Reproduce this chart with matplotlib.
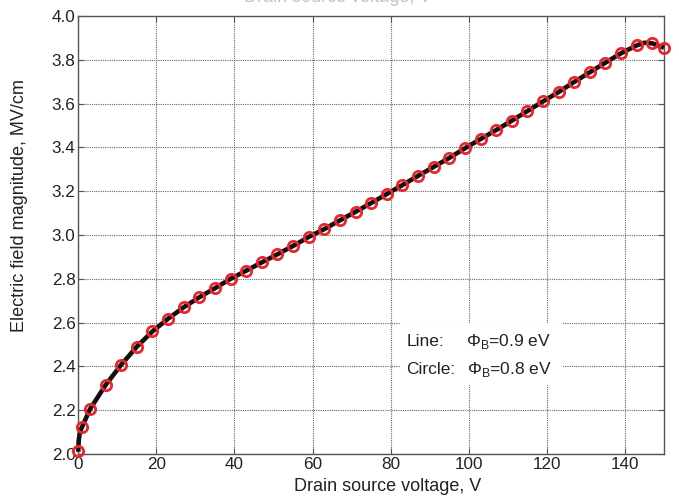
import numpy as np
import matplotlib
matplotlib.use('Agg')
import matplotlib.pyplot as plt
from matplotlib.patches import Rectangle

plt.rcParams['font.family'] = ['Liberation Sans', 'DejaVu Sans']
plt.rcParams['mathtext.fontset'] = 'custom'
plt.rcParams['mathtext.rm'] = 'Liberation Sans'

# Φ_B = 0.9 eV (solid line)
line_v = [0, 0.1, 0.4, 1, 3, 7, 11, 15, 19, 23, 27, 31, 35, 39, 43, 47, 51, 55, 59, 63, 67,
          71, 75, 79, 83, 87, 91, 95, 99, 103, 107, 111, 115, 119, 123, 127, 131, 135,
          139, 143, 145, 147, 150]
line_e = [2.01, 2.06, 2.10, 2.125, 2.205, 2.315, 2.408, 2.49, 2.56, 2.618, 2.67, 2.716,
          2.757, 2.80, 2.837, 2.875, 2.912, 2.950, 2.991, 3.027, 3.067, 3.106, 3.146,
          3.187, 3.228, 3.27, 3.311, 3.352, 3.396, 3.438, 3.479, 3.522, 3.566, 3.610,
          3.653, 3.699, 3.743, 3.787, 3.830, 3.866, 3.878, 3.875, 3.855]

# Φ_B = 0.8 eV (circles)
circle_v = [0, 1, 3, 7, 11, 15, 19, 23, 27, 31, 35, 39, 43, 47, 51, 55, 59, 63, 67, 71,
            75, 79, 83, 87, 91, 95, 99, 103, 107, 111, 115, 119, 123, 127, 131, 135,
            139, 143, 147, 150]
circle_e = [2.015, 2.125, 2.205, 2.315, 2.408, 2.49, 2.56, 2.618, 2.67, 2.716, 2.757,
            2.80, 2.837, 2.875, 2.912, 2.950, 2.991, 3.027, 3.067, 3.106, 3.146, 3.187,
            3.228, 3.27, 3.311, 3.352, 3.396, 3.438, 3.479, 3.522, 3.566, 3.610, 3.653,
            3.699, 3.743, 3.787, 3.830, 3.866, 3.875, 3.855]

x_ticks = [0, 20, 40, 60, 80, 100, 120, 140]
y_ticks = [2.0, 2.2, 2.4, 2.6, 2.8, 3.0, 3.2, 3.4, 3.6, 3.8, 4.0]

fig = plt.figure(figsize=(6.79, 5.0), dpi=100)
ax = fig.add_axes([0.1153, 0.092, 0.8627, 0.876])

ax.plot(line_v, line_e, color='#111111', linewidth=3.3, solid_capstyle='butt', zorder=3,
        clip_on=False)
ax.plot(circle_v, circle_e, linestyle='none', marker='o', markersize=7.4,
        markerfacecolor='none', markeredgecolor='#e8262b', markeredgewidth=2.0,
        zorder=4, clip_on=False)

ax.set_xlim(0, 150)
ax.set_ylim(2.0, 4.0)
ax.set_xticks(x_ticks)
ax.set_yticks(y_ticks)
ax.set_yticklabels([f'{t:.1f}' for t in y_ticks])

ax.grid(True, linestyle=(0, (1, 1)), color='#666666', linewidth=0.8)
ax.set_axisbelow(True)
for s in ax.spines.values():
    s.set_color('#555555')
    s.set_linewidth(1.0)
ax.tick_params(direction='in', length=4, color='#555555', labelsize=12.3,
               labelcolor='#222222', top=True, right=True, pad=2)

ax.set_xlabel('Drain source voltage, V', fontsize=13, color='#222222')
ax.set_ylabel('Electric field magnitude, MV/cm', fontsize=13, color='#222222')
ax.xaxis.set_label_coords(0.528, -0.055)
ax.yaxis.set_label_coords(-0.086, 0.568)

# white patch behind the annotation, hides the grid there
ax.add_patch(Rectangle((82.5, 2.315), 41.5, 0.283, facecolor='white', edgecolor='none',
                       zorder=2))
ax.text(84.0, 2.513, 'Line:', fontsize=12.5, color='#222222', va='center', ha='left', zorder=5)
ax.text(84.0, 2.384, 'Circle:', fontsize=12.5, color='#222222', va='center', ha='left', zorder=5)
ax.text(99.4, 2.513, '\u03a6$_\\mathrm{B}$=0.9 eV', fontsize=12.5, color='#222222',
        va='center', ha='left', zorder=5)
ax.text(99.6, 2.384, '\u03a6$_\\mathrm{B}$=0.8 eV', fontsize=12.5, color='#222222',
        va='center', ha='left', zorder=5)

# caption of the panel above, cut by the top edge
fig.text(338 / 679, 0.9965, 'Drain source voltage, V', fontsize=13, color='#c4c4c4',
         ha='center', va='baseline')

fig.savefig('out.png', dpi=100)
